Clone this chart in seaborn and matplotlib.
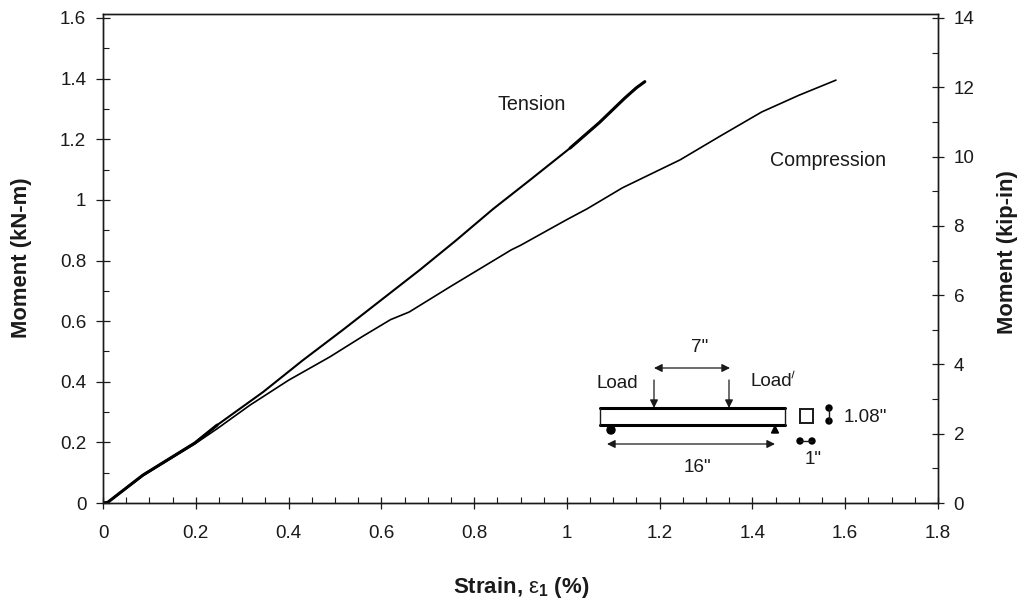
import numpy as np
import pandas as pd
import matplotlib
matplotlib.use("Agg")
import matplotlib.pyplot as plt
import seaborn as sns
from matplotlib.patches import Rectangle, Circle, Polygon

tension_strain = [0, 0.01, 0.086, 0.198, 0.246, 0.345, 0.43, 0.517, 0.6, 0.683, 0.76, 0.841, 0.92, 1.007, 1.07, 1.125, 1.15, 1.168]
tension_moment = [0, 0.002, 0.092, 0.198, 0.257, 0.366, 0.47, 0.571, 0.67, 0.769, 0.865, 0.97, 1.065, 1.171, 1.255, 1.336, 1.37, 1.39]

compression_strain = [0, 0.01, 0.086, 0.198, 0.246, 0.317, 0.4, 0.489, 0.56, 0.62, 0.66, 0.75, 0.88, 0.9, 1.0, 1.043, 1.12, 1.244, 1.33, 1.42, 1.5, 1.58]
compression_moment = [0, 0.002, 0.09, 0.195, 0.245, 0.323, 0.405, 0.482, 0.55, 0.605, 0.63, 0.715, 0.835, 0.85, 0.935, 0.97, 1.04, 1.132, 1.21, 1.29, 1.345, 1.395]

x_ticks = [0, 0.2, 0.4, 0.6, 0.8, 1, 1.2, 1.4, 1.6, 1.8]
x_tick_labels = ['0', '0.2', '0.4', '0.6', '0.8', '1', '1.2', '1.4', '1.6', '1.8']
y_ticks = [0, 0.2, 0.4, 0.6, 0.8, 1, 1.2, 1.4, 1.6]
y_tick_labels = ['0', '0.2', '0.4', '0.6', '0.8', '1', '1.2', '1.4', '1.6']
y2_ticks = [0, 2, 4, 6, 8, 10, 12, 14]

W, H = 1021, 598
sns.set_theme(style="ticks")
plt.rcParams['font.family'] = ['Liberation Sans', 'DejaVu Sans']
plt.rcParams['mathtext.fontset'] = 'custom'
plt.rcParams['mathtext.rm'] = 'Liberation Sans'
plt.rcParams['mathtext.bf'] = 'Liberation Sans:bold'
INK = '#1a1a1a'

fig = plt.figure(figsize=(W / 100, H / 100), dpi=100, facecolor='white')
ax = fig.add_axes([103 / W, (H - 503) / H, 835 / W, 489.5 / H])

tension = pd.DataFrame({'strain': tension_strain, 'moment': tension_moment})
compression = pd.DataFrame({'strain': compression_strain, 'moment': compression_moment})
sns.lineplot(data=tension, x='strain', y='moment', color='black', linewidth=1.5, ax=ax)
sns.lineplot(data=compression, x='strain', y='moment', color='black', linewidth=1.2, ax=ax)
# tension trace gets heavier near the top and where both traces overlap
sns.lineplot(data=tension[tension.strain >= 1.0], x='strain', y='moment', color='black', linewidth=2.2, ax=ax)
sns.lineplot(data=tension[tension.strain <= 0.25], x='strain', y='moment', color='black', linewidth=2.2, ax=ax)

ymax = 1.6 * 489.5 / 485
ax.set_xlim(0, 1.8)
ax.set_ylim(0, ymax)
ax.set_xlabel('')
ax.set_ylabel('')
ax.set_xticks(x_ticks)
ax.set_xticklabels(x_tick_labels)
ax.set_yticks(y_ticks)
ax.set_yticklabels(y_tick_labels)
ax.set_xticks(np.arange(0.05, 1.8, 0.05), minor=True)
ax.set_yticks(np.arange(0.1, 1.6, 0.2), minor=True)
ax.tick_params(axis='x', which='major', direction='inout', length=8, width=0.9, color=INK, labelcolor=INK, labelsize=13.6, pad=11.5)
ax.tick_params(axis='y', which='major', direction='inout', length=10, width=0.9, color=INK, labelcolor=INK, labelsize=13.6, pad=7)
ax.tick_params(axis='both', which='minor', direction='in', length=4, width=0.8, color=INK)

ax2 = ax.twinx()
ax2.set_ylim(0, 14 * ymax / 1.6)
ax2.set_yticks(y2_ticks)
ax2.set_yticks(np.arange(1, 14, 2), minor=True)
ax2.tick_params(axis='y', which='major', direction='inout', length=8.5, width=0.9, color=INK, labelcolor=INK, labelsize=13.6, pad=7)
ax2.tick_params(axis='y', which='minor', direction='in', length=4, width=0.8, color=INK)

for a in (ax, ax2):
    for s in a.spines.values():
        s.set_visible(True)
        s.set_linewidth(1.0)
        s.set_color(INK)

# everything else is placed in image pixels on an overlay
ov = fig.add_axes([0, 0, 1, 1], facecolor='none')
ov.set_xlim(0, W)
ov.set_ylim(H, 0)
ov.axis('off')

ov.text(22, 258, 'Moment (kN-m)', rotation=90, ha='center', va='center', fontsize=15.8, fontweight='bold', color=INK)
ov.text(1007, 252, 'Moment (kip-in)', rotation=90, ha='center', va='center', fontsize=15.8, fontweight='bold', color=INK)
ov.text(521, 587, r'Strain, $\mathrm{ε}_{\mathbf{1}}$ (%)', ha='center', va='center', fontsize=16, fontweight='bold', color=INK)
ov.text(532, 104, 'Tension', ha='center', va='center', fontsize=14.2, color=INK)
ov.text(828, 161, 'Compression', ha='center', va='center', fontsize=14.1, color=INK)

# beam sketch
ov.plot([600, 785], [408, 408], color='black', lw=2.2)
ov.plot([600, 785], [424.5, 424.5], color='black', lw=2.2)
ov.plot([600, 600], [408, 425], color=INK, lw=1)
ov.plot([785, 785], [408, 425], color=INK, lw=1)

def arrow(x0, y0, x1, y1, style='-|>'):
    ov.annotate('', xy=(x1, y1), xytext=(x0, y0),
                arrowprops=dict(arrowstyle=style, color=INK, lw=0.9, shrinkA=0, shrinkB=0, mutation_scale=12))

arrow(654, 380, 654, 408)
arrow(729, 380, 729, 408)
arrow(654, 368, 730, 368, '<|-|>')
arrow(607, 444, 775, 444, '<|-|>')
ov.add_patch(Circle((611, 430), 4, color='black'))
ov.add_patch(Polygon([[771.5, 433], [778.5, 433], [775, 426]], color='black'))

ov.add_patch(Rectangle((800, 409), 13, 14, fill=False, edgecolor=INK, lw=1.4))
ov.plot([829, 829], [408, 421], color=INK, lw=1)
ov.plot([800, 812], [441, 441], color=INK, lw=1)
ov.plot([792, 794], [378, 371], color=INK, lw=0.7)
for px, py in [(829, 408), (829, 421), (800, 441), (812, 441)]:
    ov.add_patch(Circle((px, py), 3, color='black'))

ov.text(617.5, 383, 'Load', ha='center', va='center', fontsize=13.6, color=INK)
ov.text(771, 382, 'Load', ha='center', va='center', fontsize=13.6, color=INK)
ov.text(700, 347, '7"', ha='center', va='center', fontsize=13.6, color=INK)
ov.text(697, 467, '16"', ha='center', va='center', fontsize=13.6, color=INK)
ov.text(865, 418, '1.08"', ha='center', va='center', fontsize=13.6, color=INK)
ov.text(813, 460, '1"', ha='center', va='center', fontsize=13.6, color=INK)

fig.savefig('out.png', dpi=100)
